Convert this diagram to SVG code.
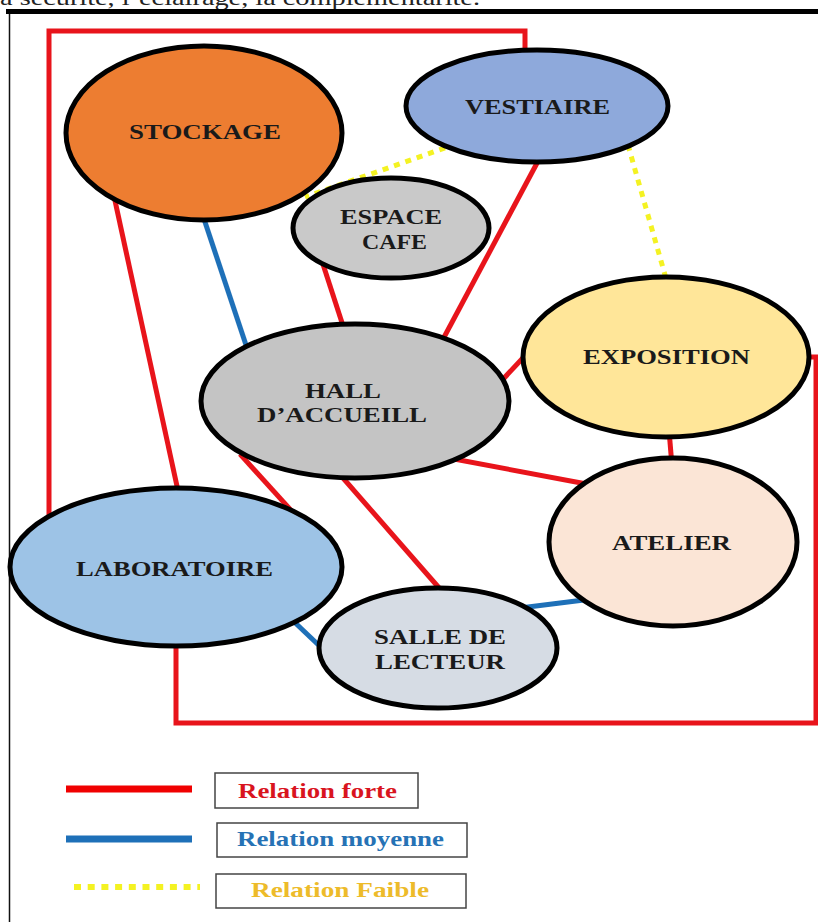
<svg xmlns="http://www.w3.org/2000/svg" width="818" height="922" viewBox="0 0 818 922">
<style>
.node{stroke:#000;stroke-width:5}
.lbl{font-family:"Liberation Serif","Times New Roman",serif;font-weight:bold;font-size:21px;fill:#1a1a1a}
.leg{font-family:"Liberation Serif","Times New Roman",serif;font-weight:bold;font-size:22px}
.strong{stroke:#E8141B;stroke-width:5;fill:none}
.frame{stroke:#E8141B;stroke-width:5;fill:none}
.mid{stroke:#1E70B8;stroke-width:5;fill:none}
.weak{stroke:#F4F222;stroke-width:5;fill:none;stroke-dasharray:6 6}
.box{fill:#fff;stroke:#444;stroke-width:1.5}
</style>
<rect width="818" height="922" fill="#fff"/>
<text x="0" y="5" font-family="Liberation Serif, serif" font-size="22" fill="#222" textLength="480" lengthAdjust="spacingAndGlyphs">a sécurité, l’éclairage, la complémentarité.</text>
<rect x="6" y="9" width="812" height="5" fill="#000"/>
<line x1="9.5" y1="14" x2="9.5" y2="922" stroke="#111" stroke-width="1.5"/>
<g id="connectors">
<path class="frame" d="M49 520 V31 H525 V55"/>
<path class="frame" d="M805 357 H816 V723 H176 V640"/>
<line class="strong" x1="104" y1="150" x2="180" y2="500"/>
<line class="strong" x1="320" y1="255" x2="346" y2="335"/>
<line class="strong" x1="544" y1="150" x2="434" y2="356"/>
<line class="strong" x1="478" y1="406" x2="535" y2="345"/>
<line class="strong" x1="669" y1="430" x2="672" y2="466"/>
<line class="strong" x1="438" y1="456" x2="592" y2="485"/>
<line class="strong" x1="336" y1="470" x2="447" y2="597"/>
<line class="strong" x1="240" y1="454" x2="298" y2="518"/>
<line class="mid" x1="201" y1="210" x2="250" y2="357"/>
<line class="mid" x1="288" y1="616" x2="328" y2="654"/>
<line class="mid" x1="520" y1="608" x2="592" y2="599"/>
<line class="weak" x1="445" y1="148" x2="305" y2="197"/>
<line class="weak" x1="628" y1="145" x2="667" y2="282"/>
</g>
<g id="stockage"><ellipse class="node" cx="204" cy="133" rx="138" ry="87" fill="#ED7D31"/><text class="lbl" x="129" y="139" textLength="152" lengthAdjust="spacingAndGlyphs">STOCKAGE</text></g>
<g id="vestiaire"><ellipse class="node" cx="537" cy="106" rx="131" ry="56" fill="#8EA9DB"/><text class="lbl" x="465" y="114" textLength="145" lengthAdjust="spacingAndGlyphs">VESTIAIRE</text></g>
<g id="espace-cafe"><ellipse class="node" cx="391" cy="228" rx="98" ry="50" fill="#C9C9C9"/><text class="lbl" x="340" y="224" textLength="102" lengthAdjust="spacingAndGlyphs">ESPACE</text><text class="lbl" x="362" y="249" textLength="65" lengthAdjust="spacingAndGlyphs">CAFE</text></g>
<g id="exposition"><ellipse class="node" cx="666" cy="357" rx="143" ry="80" fill="#FFE699"/><text class="lbl" x="583" y="364" textLength="167" lengthAdjust="spacingAndGlyphs">EXPOSITION</text></g>
<g id="hall"><ellipse class="node" cx="355" cy="401" rx="154" ry="77" fill="#C4C4C4"/><text class="lbl" x="305" y="398" textLength="76" lengthAdjust="spacingAndGlyphs">HALL</text><text class="lbl" x="257" y="422" textLength="170" lengthAdjust="spacingAndGlyphs">D’ACCUEILL</text></g>
<g id="atelier"><ellipse class="node" cx="673" cy="542" rx="124" ry="84" fill="#FBE5D6"/><text class="lbl" x="612" y="550" textLength="119" lengthAdjust="spacingAndGlyphs">ATELIER</text></g>
<g id="laboratoire"><ellipse class="node" cx="176" cy="567" rx="166" ry="79" fill="#9DC3E6"/><text class="lbl" x="76" y="576" textLength="197" lengthAdjust="spacingAndGlyphs">LABORATOIRE</text></g>
<g id="salle"><ellipse class="node" cx="438" cy="648" rx="119" ry="60" fill="#D6DCE4"/><text class="lbl" x="374" y="644" textLength="132" lengthAdjust="spacingAndGlyphs">SALLE DE</text><text class="lbl" x="375" y="669" textLength="130" lengthAdjust="spacingAndGlyphs">LECTEUR</text></g>
<g id="legend">
<line x1="66" y1="789" x2="192" y2="789" stroke="#F00000" stroke-width="7"/>
<line x1="66" y1="839" x2="192" y2="839" stroke="#1E70B8" stroke-width="7"/>
<line x1="74" y1="887" x2="200" y2="887" stroke="#F4F222" stroke-width="6" stroke-dasharray="7 6.7"/>
<rect class="box" x="215" y="773" width="203" height="35"/>
<text class="leg" x="238" y="798" fill="#D9141E" textLength="159" lengthAdjust="spacingAndGlyphs">Relation forte</text>
<rect class="box" x="217" y="823" width="250" height="34"/>
<text class="leg" x="237" y="846" fill="#2672B5" textLength="207" lengthAdjust="spacingAndGlyphs">Relation moyenne</text>
<rect class="box" x="216" y="874" width="250" height="34"/>
<text class="leg" x="251" y="897" fill="#EDBB2A" textLength="178" lengthAdjust="spacingAndGlyphs">Relation Faible</text>
</g>
</svg>
